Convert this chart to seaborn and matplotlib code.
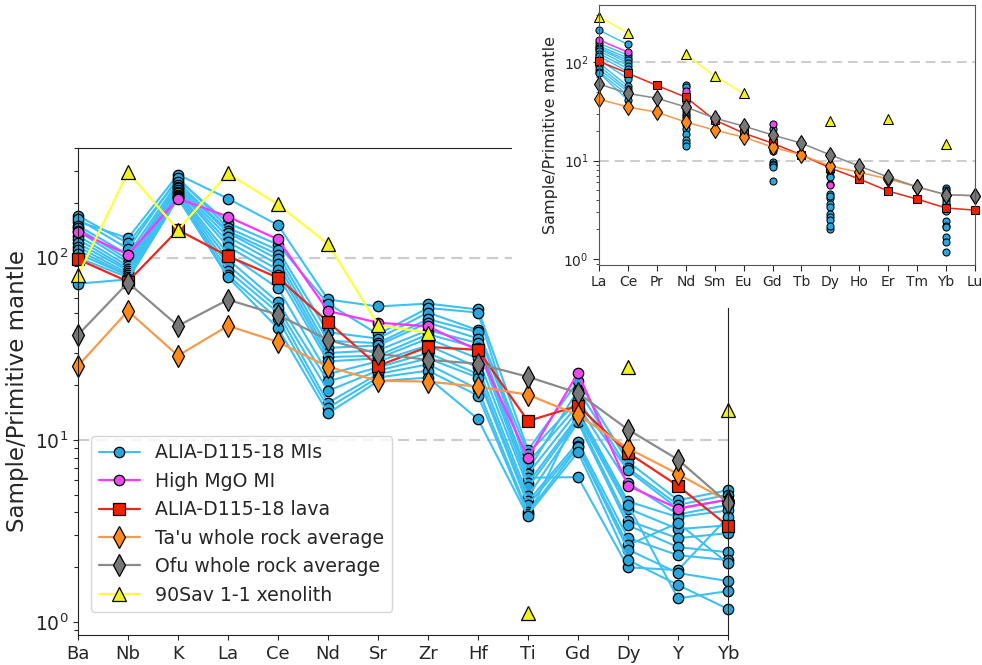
import numpy as np
import pandas as pd
import matplotlib
matplotlib.use("Agg")
import matplotlib.pyplot as plt
from matplotlib.lines import Line2D
from matplotlib.patches import Rectangle
import seaborn as sns

nan = np.nan

# ---------------- data ----------------
elements = ["Ba", "Nb", "K", "La", "Ce", "Nd", "Sr", "Zr", "Hf", "Ti", "Gd", "Dy", "Y", "Yb"]
ree = ["La", "Ce", "Pr", "Nd", "Sm", "Eu", "Gd", "Tb", "Dy", "Ho", "Er", "Tm", "Yb", "Lu"]

# ALIA-D115-18 melt inclusions (one row per inclusion, columns = elements)
mi_rows = [
    [158, 128, 286, 211, 151, 59, 54, 56, 52, 8.8, 21.0, 7.6, 4.67, 5.3],
    [170, 120, 268, 155, 118, 56, 38, 53, 50, 6.8, 18.8, 7.0, 4.4, 5.0],
    [163, 112, 275, 146, 110, 39, 36, 50, 40, 8.4, 16.5, 6.8, 4.2, 4.7],
    [150, 104, 260, 140, 104, 35, 34, 46, 39, 7.5, 15.5, 5.8, 3.9, 4.4],
    [145, 98, 252, 137, 98, 32, 33, 44, 36, 6.5, 14.5, 4.6, 3.77, 4.1],
    [140, 94, 245, 130, 92, 30, 31, 40, 34, 6.2, 6.25, 2.0, 1.93, 3.77],
    [132, 90, 240, 122, 86, 28.5, 29, 38, 32, 5.8, 13.5, 4.2, 3.24, 3.4],
    [126, 87, 236, 115, 80, 27, 28, 36, 28, 5.5, 13.0, 3.6, 2.89, 3.08],
    [120, 85, 230, 105, 68, 23, 27, 33, 25, 4.9, 12.5, 3.4, 2.58, 2.42],
    [115, 82, 226, 98, 57, 21, 25, 30, 23, 4.6, 9.7, 2.9, 2.33, 2.19],
    [110, 80, 222, 91, 53, 18.6, 24, 28, 22, 4.4, 9.3, 2.65, 3.5, 2.1],
    [105, 80, 218, 85, 50, 16, 23, 26, 19, 4.0, 9.1, 2.5, 1.86, 1.68],
    [100, 78, 215, 80, 46, 15, 22, 24, 17.5, 3.9, 8.6, 2.19, 1.6, 1.18],
    [72, 76, 212, 78, 41, 14, 21, 22, 13, 3.8, 14.0, 4.4, 1.35, 1.48],
]
high_mgo = [139, 104, 211, 168, 126, 51, 44, 42, 31, 8.0, 23.3, 5.6, 4.2, 4.7]
lava = [98, 74, 142, 102, 77.6, 44.5, 25.5, 32.4, 31.2, 12.7, 15.4, 8.5, 5.6, 3.37]
tau = [25.5, 51, 29, 42.3, 34.5, 25.2, 21.1, 20.9, 19.6, 17.7, 13.7, 9.0, 6.5, 4.6]
ofu = [37.7, 73, 42.3, 58.8, 48.6, 35.4, 29.7, 27.5, 26.2, 22.2, 18.1, 11.4, 7.8, 4.5]
xeno = [80, 295, 142, 290, 196, 119, 42.8, 38.7, nan, 1.12, nan, 25.2, nan, 14.6]

# REE-only series for the inset
lava_ree = [102, 77, 58, 44, 25.8, 19, 15, 11.4, 8.4, 6.5, 4.9, 4.06, 3.3, 3.14]
tau_ree = [42, 35, 31, 24.6, 20.4, 17.3, 13.7, 11.4, 8.8, 7.6, 6.5, 5.4, 4.5, 4.4]
ofu_ree = [60, 48, 43, 35, 27, 22.4, 18.2, 15, 11.4, 8.8, 6.8, 5.4, 4.5, 4.4]
xeno_ree = [290, 197, nan, 120, 72, 48, nan, nan, 25, nan, 26.4, nan, 14.7, nan]

legend_labels = ["ALIA-D115-18 MIs", "High MgO MI", "ALIA-D115-18 lava",
                 "Ta'u whole rock average", "Ofu whole rock average", "90Sav 1-1 xenolith"]

# ---------------- styles ----------------
st_mi = dict(color="#3ec0f0", marker="o", markerfacecolor="#2aa6dc", ms=7.5, lw=1.5)
st_mg = dict(color="#ff33ff", marker="o", markerfacecolor="#e84be8", ms=7.5, lw=1.6)
st_lava = dict(color="#e8281e", marker="s", markerfacecolor="#ee2200", ms=8.5, lw=1.6)
st_tau = dict(color="#f59a4c", marker="d", markerfacecolor="#ff8a1a", ms=11, lw=1.6)
st_ofu = dict(color="#8a8a8a", marker="d", markerfacecolor="#777777", ms=11, lw=1.6)
st_xeno = dict(color="#ffff3a", marker="^", markerfacecolor="#f2f21e", ms=10, lw=1.6)
styles = [st_mi, st_mg, st_lava, st_tau, st_ofu, st_xeno]


def draw(ax, xpos, vals, st, scale=1.0, lwscale=1.0):
    df = pd.DataFrame({"x": np.asarray(xpos, float), "y": np.asarray(vals, float)})
    df["seg"] = df["y"].isna().cumsum()
    df = df.dropna()
    sns.lineplot(data=df, x="x", y="y", units="seg", estimator=None, sort=False,
                 ax=ax, legend=False, color=st["color"], lw=st["lw"] * lwscale,
                 marker=st["marker"], markersize=st["ms"] * scale,
                 markerfacecolor=st["markerfacecolor"], markeredgecolor="black",
                 markeredgewidth=0.9 * scale ** 0.5, clip_on=False)


sns.set_style("ticks")
plt.rcParams["font.family"] = ["DejaVu Sans"]

fig = plt.figure(figsize=(9.82, 6.65), dpi=100)

# ---------------- main axes ----------------
ax = fig.add_axes([78 / 982, 1 - 635 / 665, (728 - 78) / 982, (635 - 148) / 665])
ax.set_yscale("log")
xm = np.arange(len(elements))
for yv in (100, 10):
    ax.axhline(yv, color="#cccccc", ls=(0, (5, 3)), lw=1.6, zorder=0.5)

for row in mi_rows:
    draw(ax, xm, row, st_mi)
draw(ax, xm, high_mgo, st_mg)
draw(ax, xm, lava, st_lava)
draw(ax, xm, tau, st_tau)
draw(ax, xm, ofu, st_ofu)
draw(ax, xm, xeno, st_xeno)

ax.set_xlim(0, len(elements) - 1)
ax.set_ylim(0.85, 400)
ax.set_xticks(xm)
ax.set_xticklabels(elements, fontsize=13)
ax.tick_params(axis="y", labelsize=13.5)
ax.tick_params(axis="y", which="minor", left=True, length=3, width=0.8)
ax.set_xlabel("")
ax.set_ylabel("Sample/Primitive mantle", fontsize=16.5)
for s in ax.spines.values():
    s.set_color("#222222")

handles = [Line2D([], [], color=st["color"], lw=st["lw"], marker=st["marker"],
                  markersize=st["ms"], markerfacecolor=st["markerfacecolor"],
                  markeredgecolor="black", markeredgewidth=0.9) for st in styles]
leg = ax.legend(handles, legend_labels, loc="lower left", bbox_to_anchor=(0.02, 0.047),
                borderaxespad=0, fontsize=13.6, frameon=True, handlelength=2.2)
leg.get_frame().set_edgecolor("#cccccc")

# white cover behind the inset
fig.add_artist(Rectangle((512 / 982, 1 - 308 / 665), 0.5, 0.5, transform=fig.transFigure,
                         facecolor="white", edgecolor="none", zorder=1))

# ---------------- inset ----------------
axi = fig.add_axes([599 / 982, 1 - 265 / 665, (975 - 599) / 982, (265 - 5) / 665])
axi.set_zorder(2)
axi.set_yscale("log")
xr = np.arange(len(ree))
for yv in (100, 10):
    axi.axhline(yv, color="#cccccc", ls=(0, (5, 3)), lw=1.4, zorder=0.5)

for row in mi_rows:
    vals = [row[elements.index(e)] if e in elements else nan for e in ree]
    draw(axi, xr, vals, st_mi, scale=0.68, lwscale=0.7)
draw(axi, xr, [high_mgo[elements.index(e)] if e in elements else nan for e in ree],
     st_mg, scale=0.68, lwscale=0.7)
draw(axi, xr, lava_ree, st_lava, scale=0.72, lwscale=0.7)
draw(axi, xr, tau_ree, st_tau, scale=0.72, lwscale=0.7)
draw(axi, xr, ofu_ree, st_ofu, scale=0.72, lwscale=0.7)
draw(axi, xr, xeno_ree, st_xeno, scale=0.7, lwscale=0.7)

axi.set_xlim(0, len(ree) - 1)
axi.set_ylim(0.87, 380)
axi.set_xticks(xr)
axi.set_xticklabels(ree, fontsize=10)
axi.tick_params(axis="y", labelsize=10)
axi.tick_params(axis="both", which="major", length=4)
axi.tick_params(axis="y", which="minor", left=True, length=2.5, width=0.6)
axi.set_xlabel("")
axi.set_ylabel("Sample/Primitive mantle", fontsize=11.5)
for s in axi.spines.values():
    s.set_color("#555555")

fig.savefig("out.png", dpi=100)
